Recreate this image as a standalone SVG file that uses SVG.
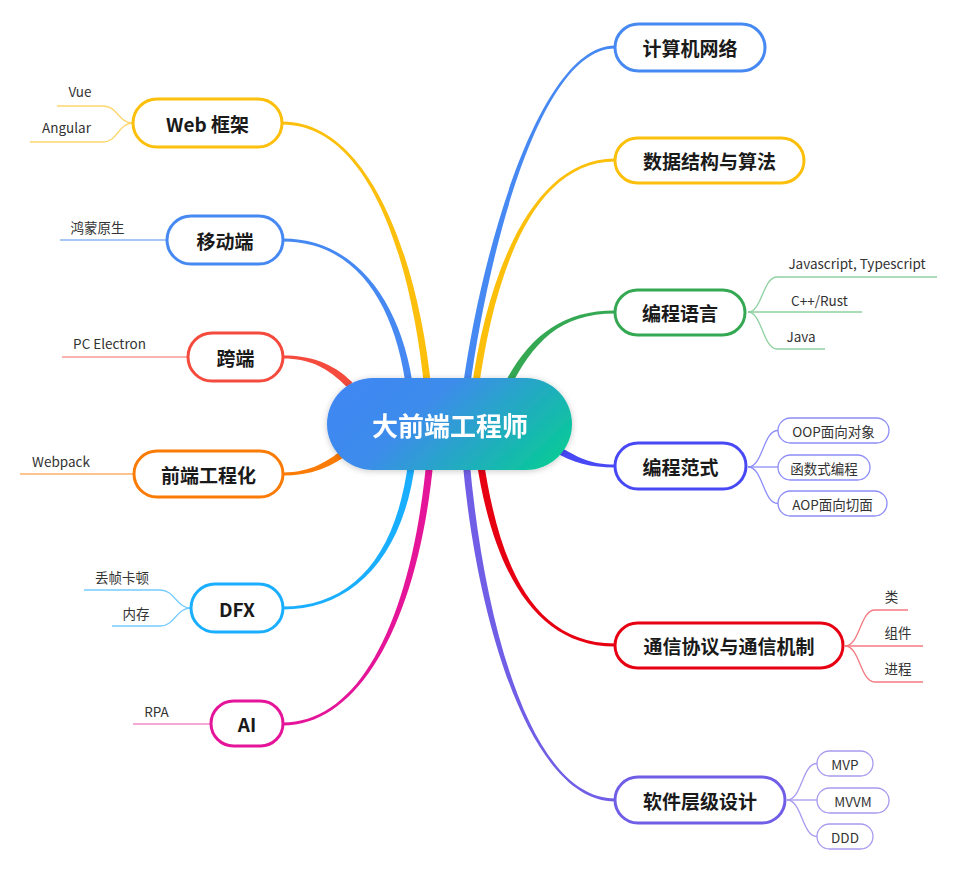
<svg xmlns="http://www.w3.org/2000/svg" width="957" height="872" viewBox="0 0 957 872">
<defs>
<linearGradient id="cg" x1="0" y1="0.3" x2="1" y2="0.7">
<stop offset="0" stop-color="#3F87F3"/>
<stop offset="0.35" stop-color="#3D8CEB"/>
<stop offset="1" stop-color="#0AC89A"/>
</linearGradient>
<filter id="sh" x="-20%" y="-30%" width="140%" height="160%">
<feDropShadow dx="0" dy="1" stdDeviation="3" flood-color="#000" flood-opacity="0.22"/>
</filter>
</defs>
<style>
.main rect{fill:#fff;stroke-width:3}
.main text{font-family:"Noto Sans CJK SC","Noto Sans",sans-serif;font-weight:bold;font-size:19px;fill:#1a1a1a;text-anchor:middle;dominant-baseline:central}
.leaf text{font-family:"Noto Sans CJK SC","Noto Sans",sans-serif;font-size:13.5px;fill:#333;text-anchor:middle}
.box rect{fill:#fff;stroke-width:1.3}
.box text{dominant-baseline:central}
.lk{fill:none;stroke-width:1.3}
.br{stroke:none}
</style>
<rect width="957" height="872" fill="#fff"/>

<g id="connectors">
<path class="br" fill="#4689F2" d="M469.5,390.5 C488.5,250.5 540,48.5 615,48.5 L615,45.5 C540,45.5 481.5,249.5 462.5,389.5 Z"/>
<path class="br" fill="#FCBF0B" d="M478.5,390.5 C493.5,280.5 530,161.5 615,161.5 L615,158.5 C530,158.5 486.5,279.5 471.5,389.5 Z"/>
<path class="br" fill="#34A853" d="M508.1,391.6 C533.1,341.6 560,313.5 615,313.5 L615,310.5 C560,310.5 526.9,338.4 501.9,388.4 Z"/>
<path class="br" fill="#4848F5" d="M553.2,451 C573.2,463 590,467.5 615,467.5 L615,464.5 C590,464.5 576.8,457 556.8,445 Z"/>
<path class="br" fill="#E60012" d="M476.5,460.5 C491.5,560.5 530,646.5 615,646.5 L615,643.5 C530,643.5 498.5,559.5 483.5,459.5 Z"/>
<path class="br" fill="#705FE6" d="M462.5,460.3 C476.5,620.3 530,801.5 615,801.5 L615,798.5 C530,798.5 483.5,619.7 469.5,459.7 Z"/>
<path class="br" fill="#FCBF0B" d="M431.5,389.65 C418.5,259.65 370,121.5 282,121.5 L282,124.5 C370,124.5 411.5,260.35 424.5,390.35 Z"/>
<path class="br" fill="#4689F2" d="M413.5,389.6 C403.5,309.6 360,238.5 283,238.5 L283,241.5 C360,241.5 396.5,310.4 406.5,390.4 Z"/>
<path class="br" fill="#F44B3E" d="M352.5,382.5 C332.5,362.5 310,355.5 283,355.5 L283,358.5 C310,358.5 327.5,367.5 347.5,387.5 Z"/>
<path class="br" fill="#FA7B05" d="M347.7,445.3 C327.7,462.3 310,472.5 283,472.5 L283,475.5 C310,475.5 332.3,467.7 352.3,450.7 Z"/>
<path class="br" fill="#1AAEFF" d="M408.5,459.6 C396.5,559.6 350,606.5 283,606.5 L283,609.5 C350,609.5 403.5,560.4 415.5,460.4 Z"/>
<path class="br" fill="#E5159A" d="M426.5,459.7 C411.5,619.7 360,722.5 283,722.5 L283,725.5 C360,725.5 418.5,620.3 433.5,460.3 Z"/>

<g class="lk" stroke="#FDD66E">
<path d="M57,106 H103 C118,106 118,123 133,123"/>
<path d="M30,142 H103 C118,142 118,123 133,123"/>
</g>
<path class="lk" stroke="#8AB4F7" d="M60,240 H167"/>
<path class="lk" stroke="#F89A93" d="M62,357 H188"/>
<path class="lk" stroke="#FDB06A" d="M20,474 H134"/>
<g class="lk" stroke="#76CCFF">
<path d="M84,590 H160 C175,590 176,608 191,608"/>
<path d="M112,626 H160 C175,626 176,608 191,608"/>
</g>
<path class="lk" stroke="#F28BC9" d="M133,724 H211"/>
<g class="lk" stroke="#8ED1A0">
<path d="M748,312 C762,312 763,277 777,277 H937"/>
<path d="M748,312 H862"/>
<path d="M748,312 C762,312 763,349 777,349 H825"/>
</g>
<g class="lk" stroke="#8D8DF9">
<path d="M748,467 C763,467 763,430.5 778,430.5"/>
<path d="M748,467 H778"/>
<path d="M748,467 C763,467 763,503.5 778,503.5"/>
</g>
<g class="lk" stroke="#F47A80">
<path d="M845,646 C860,646 860,610 875,610 H908"/>
<path d="M845,646 H923"/>
<path d="M845,646 C860,646 860,682 875,682 H923"/>
</g>
<g class="lk" stroke="#A69BEF">
<path d="M787,800 C802,800 802,763.5 817,763.5"/>
<path d="M787,800 H817"/>
<path d="M787,800 C802,800 802,836.5 817,836.5"/>
</g>
</g>

<g id="center" filter="url(#sh)">
<rect x="327" y="378" width="245" height="92" rx="46" fill="url(#cg)"/>
<text x="450" y="424" font-family="'Noto Sans CJK SC','Noto Sans',sans-serif" font-weight="bold" font-size="26" fill="#fff" text-anchor="middle" dominant-baseline="central">大前端工程师</text>
</g>

<g id="n-net" class="main"><rect x="615" y="24" width="150" height="47" rx="23.5" stroke="#4689F2"/><text x="690" y="47.5">计算机网络</text></g>
<g id="n-ds" class="main"><rect x="615" y="138" width="189" height="45" rx="22.5" stroke="#FCBF0B"/><text x="709.5" y="160.5">数据结构与算法</text></g>
<g id="n-lang" class="main"><rect x="615" y="290" width="130" height="45" rx="22.5" stroke="#34A853"/><text x="680" y="312.5">编程语言</text></g>
<g id="n-para" class="main"><rect x="615" y="443" width="131" height="46" rx="23" stroke="#4848F5"/><text x="680.5" y="466">编程范式</text></g>
<g id="n-comm" class="main"><rect x="615" y="623" width="228" height="45" rx="22.5" stroke="#E60012"/><text x="729" y="645.5">通信协议与通信机制</text></g>
<g id="n-arch" class="main"><rect x="615" y="777" width="170" height="46" rx="23" stroke="#705FE6"/><text x="700" y="800">软件层级设计</text></g>

<g id="n-web" class="main"><rect x="133" y="99" width="149" height="48" rx="24" stroke="#FCBF0B"/><text x="207.5" y="123">Web 框架</text></g>
<g id="n-mobile" class="main"><rect x="167" y="216" width="116" height="48" rx="24" stroke="#4689F2"/><text x="225" y="240">移动端</text></g>
<g id="n-cross" class="main"><rect x="188" y="333" width="95" height="48" rx="24" stroke="#F44B3E"/><text x="235.5" y="357">跨端</text></g>
<g id="n-eng" class="main"><rect x="134" y="451" width="149" height="46" rx="23" stroke="#FA7B05"/><text x="208.5" y="474">前端工程化</text></g>
<g id="n-dfx" class="main"><rect x="191" y="584" width="92" height="48" rx="24" stroke="#1AAEFF"/><text x="237" y="608">DFX</text></g>
<g id="n-ai" class="main"><rect x="211" y="701" width="72" height="45" rx="22.5" stroke="#E5159A"/><text x="247" y="723.5">AI</text></g>

<g id="l-vue" class="leaf"><text x="80" y="97">Vue</text></g>
<g id="l-angular" class="leaf"><text x="66.5" y="133">Angular</text></g>
<g id="l-harmony" class="leaf"><text x="97.5" y="233">鸿蒙原生</text></g>
<g id="l-electron" class="leaf"><text x="109.5" y="349">PC Electron</text></g>
<g id="l-webpack" class="leaf"><text x="61" y="467">Webpack</text></g>
<g id="l-jank" class="leaf"><text x="122" y="583">丢帧卡顿</text></g>
<g id="l-mem" class="leaf"><text x="136" y="619">内存</text></g>
<g id="l-rpa" class="leaf"><text x="156.5" y="717">RPA</text></g>
<g id="l-js" class="leaf"><text x="857" y="269">Javascript, Typescript</text></g>
<g id="l-cpp" class="leaf"><text x="819.5" y="306">C++/Rust</text></g>
<g id="l-java" class="leaf"><text x="801" y="342">Java</text></g>
<g id="l-class" class="leaf"><text x="891.5" y="602">类</text></g>
<g id="l-comp" class="leaf"><text x="898" y="638">组件</text></g>
<g id="l-proc" class="leaf"><text x="898" y="674">进程</text></g>
<g id="l-oop" class="leaf box"><rect x="778" y="418" width="111" height="25" rx="12.5" stroke="#8D8DF9"/><text x="833.5" y="430.5">OOP面向对象</text></g>
<g id="l-fp" class="leaf box"><rect x="778" y="455" width="92" height="25" rx="12.5" stroke="#8D8DF9"/><text x="824" y="467.5">函数式编程</text></g>
<g id="l-aop" class="leaf box"><rect x="778" y="491" width="109" height="25" rx="12.5" stroke="#8D8DF9"/><text x="832.5" y="503.5">AOP面向切面</text></g>
<g id="l-mvp" class="leaf box"><rect x="817" y="751" width="56" height="25" rx="12.5" stroke="#A69BEF"/><text x="845" y="763.5">MVP</text></g>
<g id="l-mvvm" class="leaf box"><rect x="817" y="788" width="72" height="25" rx="12.5" stroke="#A69BEF"/><text x="853" y="800.5">MVVM</text></g>
<g id="l-ddd" class="leaf box"><rect x="817" y="824" width="56" height="25" rx="12.5" stroke="#A69BEF"/><text x="845" y="836.5">DDD</text></g>
</svg>
